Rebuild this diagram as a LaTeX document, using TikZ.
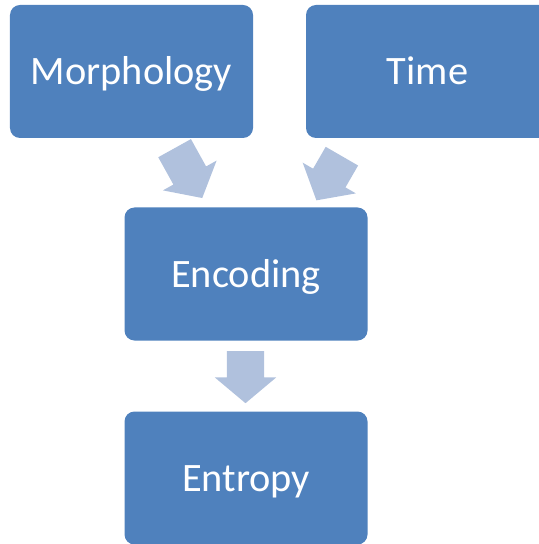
\documentclass[tikz,border=0pt]{standalone}
\usepackage{fontspec}
\setmainfont{Carlito}
\usetikzlibrary{shapes.arrows}
\definecolor{boxblue}{HTML}{4F81BD}
\definecolor{arrowblue}{HTML}{B0C1DD}
\tikzset{
  stage/.style={rectangle, rounded corners=10bp, fill=boxblue, draw=none,
    text=white, minimum width=243bp, minimum height=133bp, inner sep=0pt,
    text height=26bp, text depth=0pt,
    font=\fontsize{40.5}{46}\selectfont},
  flowarrow/.style={single arrow, fill=arrowblue, draw=none, anchor=tail,
    inner xsep=0pt, inner ysep=18.5bp, single arrow head extend=12bp,
    single arrow tip angle=100, minimum height=#1},
  flowarrow/.default=54bp
}
\begin{document}
\begin{tikzpicture}[x=1bp,y=-1bp]
  \useasboundingbox (0,0) rectangle (539,544);
  \clip (0,0) rectangle (539,544);
  % process stages
  \node[stage] (morph) at (131.5,71.5) {Morphology};
  \node[stage] (time)  at (427.5,71.5) {Time};
  \node[stage] (enc)   at (246,274)    {Encoding};
  \node[stage] (ent)   at (246,478)    {Entropy};
  % block arrows between the stages, placed by the middle of their back end
  \node[flowarrow=57bp, rotate=-61]  (a1) at (174.5,148) {};
  \node[flowarrow=51bp, rotate=-120] (a2) at (342,156)   {};
  \node[flowarrow=52bp, rotate=-90]  (a3) at (245.5,351) {};
\end{tikzpicture}
\end{document}
